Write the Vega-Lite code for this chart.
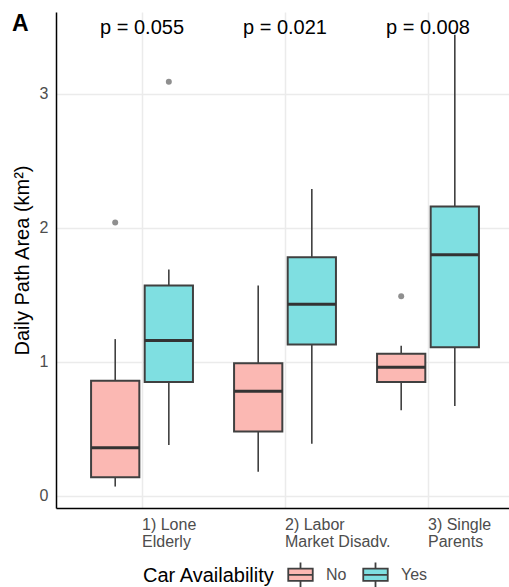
{
  "$schema": "https://vega.github.io/schema/vega-lite/v6.json",
  "width": 453,
  "height": 496,
  "autosize": {"type": "none"},
  "padding": {"left": 56, "top": 12, "right": 0, "bottom": 79},
  "title": {"text": "A", "anchor": "start", "frame": "bounds", "orient": "top", "offset": -18, "baseline": "alphabetic", "fontSize": 23, "fontWeight": "bold", "font": "Liberation Sans", "color": "black", "dx": 0, "dy": 24},
  "config": {"view": {"stroke": null}, "font": "Liberation Sans"},
  "datasets": {
    "boxes": [
      {"group": "1) Lone Elderly", "car": "No", "lo": 0.07, "q1": 0.14, "med": 0.36, "q3": 0.86, "hi": 1.17},
      {"group": "1) Lone Elderly", "car": "Yes", "lo": 0.38, "q1": 0.85, "med": 1.16, "q3": 1.57, "hi": 1.69},
      {"group": "2) Labor Market Disadv.", "car": "No", "lo": 0.18, "q1": 0.48, "med": 0.78, "q3": 0.99, "hi": 1.57},
      {"group": "2) Labor Market Disadv.", "car": "Yes", "lo": 0.39, "q1": 1.13, "med": 1.43, "q3": 1.78, "hi": 2.29},
      {"group": "3) Single Parents", "car": "No", "lo": 0.64, "q1": 0.85, "med": 0.96, "q3": 1.06, "hi": 1.12},
      {"group": "3) Single Parents", "car": "Yes", "lo": 0.67, "q1": 1.11, "med": 1.80, "q3": 2.16, "hi": 3.44}
    ],
    "outliers": [
      {"group": "1) Lone Elderly", "car": "No", "value": 2.04},
      {"group": "1) Lone Elderly", "car": "Yes", "value": 3.09},
      {"group": "3) Single Parents", "car": "No", "value": 1.49}
    ],
    "pvals": [
      {"group": "1) Lone Elderly", "y": 3.49, "label": "p = 0.055"},
      {"group": "2) Labor Market Disadv.", "y": 3.49, "label": "p = 0.021"},
      {"group": "3) Single Parents", "y": 3.49, "label": "p = 0.008"}
    ]
  },
  "encoding": {
    "x": {
      "field": "group", "type": "nominal",
      "scale": {"domain": ["1) Lone Elderly", "2) Labor Market Disadv.", "3) Single Parents"], "paddingInner": 0.25, "paddingOuter": 0.209, "align": 0.542},
      "axis": {
        "title": null, "labelAngle": 0, "labelAlign": "left", "labelBaseline": "top", "labelPadding": 8,
        "labelFontSize": 16, "labelColor": "#4d4d4d", "labelLineHeight": 17,
        "labelExpr": "split(replace(datum.label, regexp('^([^ ]+ [^ ]+) '), '$1|'), '|')",
        "ticks": false, "domainColor": "black", "domainWidth": 1.5,
        "grid": true, "gridColor": "#ebebeb", "gridWidth": 1.5, "bandPosition": 0.5
      }
    }
  },
  "layer": [
    {
      "data": {"name": "boxes"},
      "mark": {"type": "rule", "color": "#404040", "strokeWidth": 1.6},
      "encoding": {
        "xOffset": {"field": "car", "type": "nominal", "scale": {"domain": ["No", "Yes"], "paddingInner": 0.1, "paddingOuter": 0.05}},
        "y": {"field": "lo", "type": "quantitative", "scale": {"domain": [-0.09, 3.61], "nice": false, "zero": false},
          "axis": {"title": "Daily Path Area (km²)", "values": [0, 1, 2, 3], "format": "d", "grid": true, "gridColor": "#ebebeb", "gridWidth": 1.5, "ticks": false,
            "domainColor": "black", "domainWidth": 1.5, "labelFontSize": 16, "labelColor": "#4d4d4d", "labelPadding": 8,
            "titleFontSize": 20, "titleFontWeight": "normal", "titleColor": "black", "titlePadding": 7}},
        "y2": {"field": "hi"}
      }
    },
    {
      "data": {"name": "boxes"},
      "mark": {"type": "bar", "stroke": "#404040", "strokeWidth": 2, "opacity": 1},
      "encoding": {
        "xOffset": {"field": "car", "type": "nominal"},
        "y": {"field": "q1", "type": "quantitative"},
        "y2": {"field": "q3"},
        "fill": {"field": "car", "type": "nominal", "scale": {"domain": ["No", "Yes"], "range": ["#FBB8B3", "#7FDFE1"]},
          "legend": {"title": "Car Availability", "orient": "none", "legendX": 87, "legendY": 549, "direction": "horizontal",
            "titleOrient": "left", "titleFontSize": 20, "titleFontWeight": "normal", "titleColor": "black", "titleBaseline": "middle",
            "labelFontSize": 16, "labelColor": "#4d4d4d",
            "symbolType": "M-1,-0.5H1V0.5H-1Z M-1,0H1 M0,-0.5V-1 M0,0.5V1", "symbolSize": 600,
            "symbolStrokeColor": "#404040", "symbolStrokeWidth": 1.8, "symbolOpacity": 1,
            "labelOffset": 12, "columnPadding": 12, "titlePadding": 12}}
      }
    },
    {
      "data": {"name": "boxes"},
      "mark": {"type": "tick", "color": "#333333", "size": 48, "thickness": 3, "opacity": 1},
      "encoding": {
        "xOffset": {"field": "car", "type": "nominal"},
        "y": {"field": "med", "type": "quantitative"}
      }
    },
    {
      "data": {"name": "outliers"},
      "mark": {"type": "point", "filled": true, "color": "#8f8f8f", "size": 36, "opacity": 1},
      "encoding": {
        "xOffset": {"field": "car", "type": "nominal"},
        "y": {"field": "value", "type": "quantitative"}
      }
    },
    {
      "data": {"name": "pvals"},
      "mark": {"type": "text", "fontSize": 20, "color": "black", "baseline": "middle", "align": "center"},
      "encoding": {
        "y": {"field": "y", "type": "quantitative"},
        "text": {"field": "label"}
      }
    }
  ]
}
